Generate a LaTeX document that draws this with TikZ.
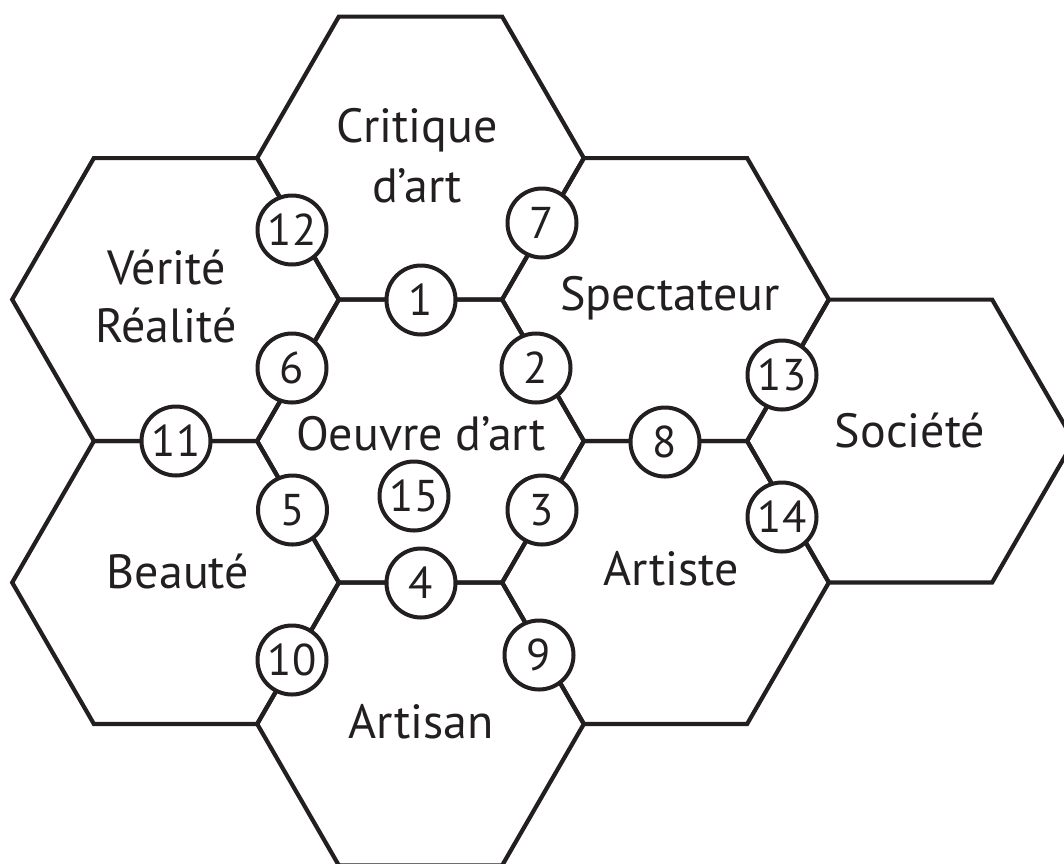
\documentclass[tikz,border=0pt]{standalone}
\usepackage{fontspec}
\setmainfont{PT Sans}
\definecolor{ink}{RGB}{35,31,32}
\tikzset{
  hexline/.style={draw=ink, line width=4.2pt, line join=miter},
  lbl/.style={anchor=base, inner sep=0pt, text=ink, font=\fontsize{48}{58}\selectfont},
  num/.style={circle, draw=ink, fill=white, line width=4pt, minimum size=69pt, inner sep=0pt, text=ink, font=\fontsize{44.5}{50}\selectfont},
}
\newcommand\hexcell[2]{%
  \draw[hexline] (#1-163.3,#2) -- (#1-81.65,#2-141.4) -- (#1+81.65,#2-141.4) -- (#1+163.3,#2) -- (#1+81.65,#2+141.4) -- (#1-81.65,#2+141.4) -- cycle;}
\begin{document}
\begin{tikzpicture}[x=1pt,y=-1pt]
\useasboundingbox[fill=white] (0,0) rectangle (1064,863);
\begin{scope}
\clip (0,0) rectangle (1064,863);
\hexcell{420.5}{441}
\hexcell{420.5}{158}
\hexcell{665.5}{299.5}
\hexcell{665.5}{582.5}
\hexcell{420.5}{724}
\hexcell{175.5}{582.5}
\hexcell{175.5}{299.5}
\hexcell{910.5}{441}
\end{scope}
% labels
\node[lbl] (critA) at (417,142) {Critique};
\node[lbl] (critB) at (417,202) {d’art};
\node[lbl] (veriA) at (166.5,284) {Vérité};
\node[lbl] (veriB) at (166,342) {Réalité};
\node[lbl] (spec) at (670,310) {Spectateur};
\node[lbl] (oeuv) at (421,450) {Oeuvre d’art};
\node[lbl] (soc) at (910,447) {Société};
\node[lbl] (beau) at (178,588) {Beauté};
\node[lbl] (arti) at (671,585) {Artiste};
\node[lbl] (arsn) at (421,738) {Artisan};
% numbered circles
\node[num] (n1) at (421,300) {1};
\node[num] (n2) at (536,368) {2};
\node[num] (n3) at (542,510) {3};
\node[num] (n4) at (421,583) {4};
\node[num] (n5) at (292.5,510) {5};
\node[num] (n6) at (292,368) {6};
\node[num] (n7) at (542,223) {7};
\node[num] (n8) at (665,442) {8};
\node[num] (n9) at (539,655) {9};
\node[num] (n10) at (292,660) {10};
\node[num] (n11) at (176,441) {11};
\node[num] (n12) at (292,230) {12};
\node[num] (n13) at (782,375) {13};
\node[num] (n14) at (782,517) {14};
\node[num] (n15) at (414,496) {15};
\end{tikzpicture}
\end{document}
